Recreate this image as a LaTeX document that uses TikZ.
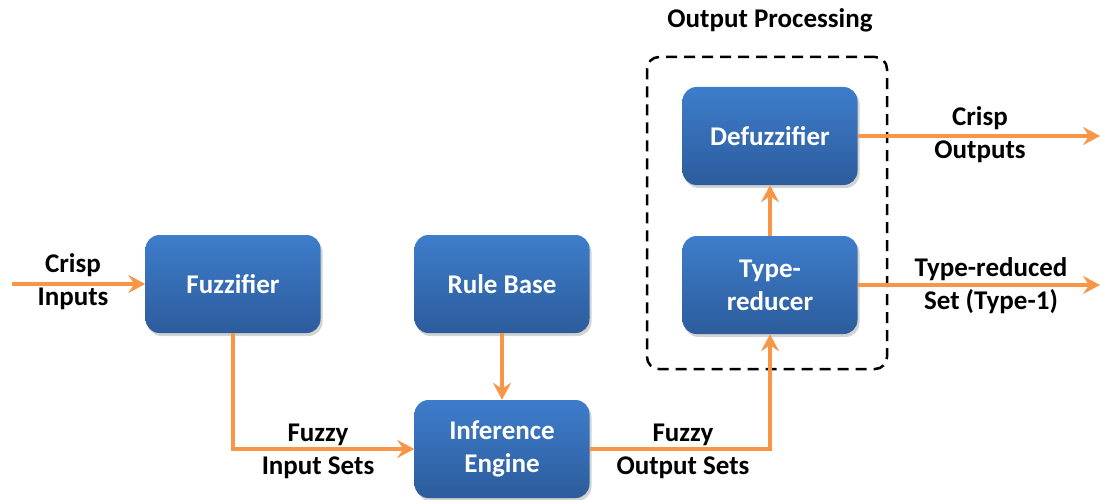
\documentclass[tikz,border=0pt]{standalone}
\usepackage{fontspec}
\setmainfont{Carlito}
\usetikzlibrary{arrows.meta,shadows}
\definecolor{arr}{HTML}{F79646}
\definecolor{btop}{HTML}{3E7DCB}
\definecolor{bbot}{HTML}{2C5C9C}
\tikzset{
  blk/.style={rounded corners=14pt, minimum width=175pt, minimum height=98pt,
    top color=btop, bottom color=bbot, draw=none, text=white,
    font=\fontsize{27}{33}\selectfont\bfseries, align=center,
    drop shadow={opacity=0.35, shadow xshift=2pt, shadow yshift=-3pt}},
  flow/.style={draw=arr, line width=4pt, -{Stealth[length=17pt,width=18pt,inset=6pt]}},
  lbl/.style={font=\fontsize{27}{33}\selectfont\bfseries, align=center, text=black},
}
\begin{document}
\begin{tikzpicture}[x=1pt,y=-1pt]
\useasboundingbox (0,0) rectangle (1100,500);
\node[lbl] (title) at (770,20) {Output Processing};
\node[draw=black, line width=2.5pt, dash pattern=on 11pt off 7pt, rounded corners=12pt,
  minimum width=240pt, minimum height=312pt] (op) at (767,213) {};
\node[blk] (fuz) at (233,284) {Fuzzifier};
\node[blk] (rb) at (502,284) {Rule Base};
\node[blk] (ie) at (502,449) {Inference\\Engine};
\node[blk] (def) at (770,136) {Defuzzifier};
\node[blk] (tr) at (770,285) {Type-\\reducer};
\coordinate (cin) at (12,284);
\coordinate (cout) at (1100,136);
\coordinate (tout) at (1100,285);
\draw[flow] (cin) -- (fuz.west);
\draw[flow] (fuz.south) |- (ie.west);
\draw[flow] (rb.south) -- (ie.north);
\draw[flow] (ie.east) -| (tr.south);
\draw[flow] (tr.north) -- (def.south);
\draw[flow] (def.east) -- (cout);
\draw[flow] (tr.east) -- (tout);
\node[lbl] (l1) at (73,282) {Crisp\\Inputs};
\node[lbl] (l2) at (318,451) {Fuzzy\\Input Sets};
\node[lbl] (l3) at (683,451) {Fuzzy\\Output Sets};
\node[lbl] (l4) at (980,135) {Crisp\\Outputs};
\node[lbl] (l5) at (991,286) {Type-reduced\\Set (Type-1)};
\end{tikzpicture}
\end{document}
